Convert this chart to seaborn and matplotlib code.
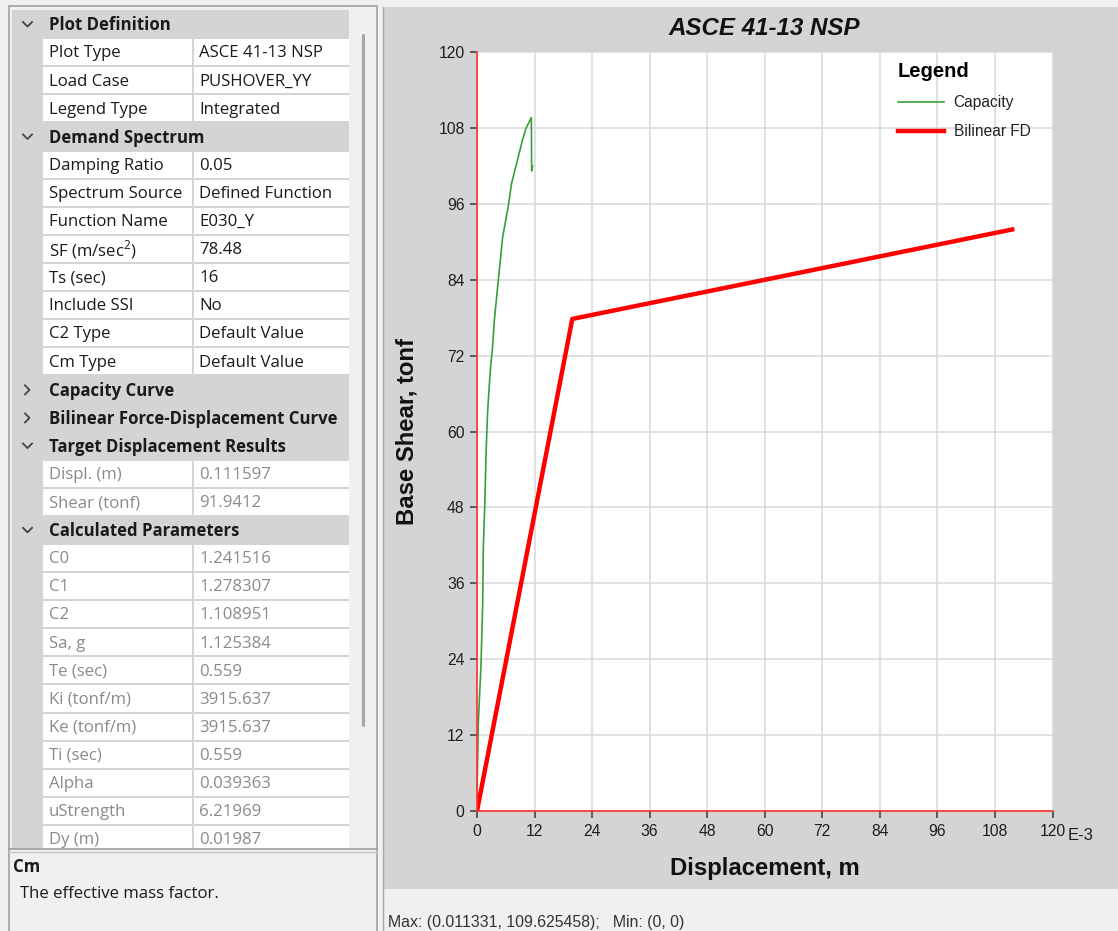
import matplotlib
matplotlib.use("Agg")
import matplotlib.pyplot as plt
from matplotlib.patches import Rectangle
from matplotlib.lines import Line2D
from matplotlib.ticker import FuncFormatter
import numpy as np
import pandas as pd
import seaborn as sns

# ---------------- data ----------------
# Capacity curve (pushover), displacement in m, base shear in tonf
cap_disp = [0.0, 0.00006, 0.00027, 0.00083, 0.00118, 0.00132, 0.00167, 0.00188,
            0.00220, 0.00257, 0.00285, 0.00320, 0.00360, 0.00465, 0.00536,
            0.00650, 0.00720, 0.00860, 0.00950, 0.01020, 0.011331, 0.01140, 0.01160]
cap_shear = [0.0, 4.9, 13.9, 23.1, 32.6, 41.8, 49.7, 56.3,
             62.9, 67.4, 70.3, 72.9, 77.5, 85.5, 90.8,
             95.5, 99.2, 103.4, 106.1, 107.9, 109.625, 101.2, 102.0]
# Bilinear force-displacement curve
bil_disp = [0.0, 0.01987, 0.111597]
bil_shear = [0.0, 77.8, 91.9412]

x_ticks = [0, 0.012, 0.024, 0.036, 0.048, 0.060, 0.072, 0.084, 0.096, 0.108, 0.120]
y_ticks = [0, 12, 24, 36, 48, 60, 72, 84, 96, 108, 120]

# property grid rows: (kind, name, value)
grid_rows = [
    ("h", "Plot Definition", "open"),
    ("r", "Plot Type", "ASCE 41-13 NSP"),
    ("r", "Load Case", "PUSHOVER_YY"),
    ("r", "Legend Type", "Integrated"),
    ("h", "Demand Spectrum", "open"),
    ("r", "Damping Ratio", "0.05"),
    ("r", "Spectrum Source", "Defined Function"),
    ("r", "Function Name", "E030_Y"),
    ("r", "SF (m/sec$^2$)", "78.48"),
    ("r", "Ts (sec)", "16"),
    ("r", "Include SSI", "No"),
    ("r", "C2 Type", "Default Value"),
    ("r", "Cm Type", "Default Value"),
    ("h", "Capacity Curve", "closed"),
    ("h", "Bilinear Force-Displacement Curve", "closed"),
    ("h", "Target Displacement Results", "open"),
    ("g", "Displ. (m)", "0.111597"),
    ("g", "Shear (tonf)", "91.9412"),
    ("h", "Calculated Parameters", "open"),
    ("g", "C0", "1.241516"),
    ("g", "C1", "1.278307"),
    ("g", "C2", "1.108951"),
    ("g", "Sa, g", "1.125384"),
    ("g", "Te (sec)", "0.559"),
    ("g", "Ki (tonf/m)", "3915.637"),
    ("g", "Ke (tonf/m)", "3915.637"),
    ("g", "Ti (sec)", "0.559"),
    ("g", "Alpha", "0.039363"),
    ("g", "uStrength", "6.21969"),
    ("g", "Dy (m)", "0.01987"),
]

# ---------------- figure ----------------
W, H = 1118, 931
fig = plt.figure(figsize=(W / 100, H / 100), dpi=100)
fig.patch.set_facecolor("#f0f0f0")
plt.rcParams["mathtext.fontset"] = "custom"
plt.rcParams["mathtext.rm"] = "Open Sans"

UI_FONT = ["Open Sans", "DejaVu Sans"]
CH_FONT = ["Liberation Sans", "DejaVu Sans"]
UI_SIZE = 12.1

bg = fig.add_axes([0, 0, 1, 1], zorder=0)
bg.set_xlim(0, W)
bg.set_ylim(H, 0)
bg.axis("off")

def rect(x0, y0, x1, y1, fc, ec="none", lw=0, z=1):
    bg.add_patch(Rectangle((x0, y0), x1 - x0, y1 - y0, facecolor=fc,
                           edgecolor=ec, linewidth=lw, zorder=z))

GRAY = "#d4d4d4"
# right chart panel
rect(383, 7, W, 889, GRAY, z=1)
bg.plot([382.5, 382.5], [7, 931], color="#a8a8a8", lw=1, zorder=2)

# left property grid panel
rect(9, 6, 377, 849, "#f0f0f0", ec="#a0a0a0", lw=1.2, z=1)
rect(12, 10, 349, 849, GRAY, z=1.5)

row_h = 28.1
y0 = 10.0
for i, (kind, name, val) in enumerate(grid_rows):
    top = y0 + row_h * i
    cy = top + row_h / 2
    ty = cy + 1.3
    if kind == "h":
        bg.text(49, ty, name, fontsize=UI_SIZE, fontweight="bold",
                family=UI_FONT, color="#1a1a1a", va="center", ha="left", zorder=5)
        if val == "open":
            bg.add_line(Line2D([23, 27.5, 32], [cy - 2, cy + 2.5, cy - 2],
                               color="#444444", lw=1.3, zorder=5))
        else:
            bg.add_line(Line2D([25, 29.5, 25], [cy - 4, cy + 0.5, cy + 5],
                               color="#444444", lw=1.3, zorder=5))
    else:
        rect(43, top + 1, 192, top + row_h - 1, "white", z=2)
        rect(194, top + 1, 349, top + row_h - 1, "white", z=2)
        col = "#1a1a1a" if kind == "r" else "#8a8a8a"
        bg.text(49, ty, name, fontsize=UI_SIZE, family=UI_FONT, color=col,
                va="center", ha="left", zorder=5)
        bg.text(199, ty, val, fontsize=UI_SIZE, family=UI_FONT, color=col,
                va="center", ha="left", zorder=5)

# scrollbar
rect(349, 10, 375, 849, "#f0f0f0", z=3)
bg.plot([362.5, 362.5], [35, 725], color="#a6a6a6", lw=2.2, zorder=4,
        solid_capstyle="round")

# description panel
rect(9, 849, 377, 935, "#f0f0f0", ec="#a0a0a0", lw=1.2, z=6)
bg.plot([9, 377], [852, 852], color="#c8c8c8", lw=1, zorder=7)
bg.text(13, 867, "Cm", fontsize=UI_SIZE, fontweight="bold", family=UI_FONT,
        color="#1a1a1a", va="center", ha="left", zorder=8)
bg.text(20, 894, "The effective mass factor.", fontsize=UI_SIZE, family=UI_FONT,
        color="#1a1a1a", va="center", ha="left", zorder=8)

# status bar
bg.text(388, 922, "Max: (0.011331, 109.625458);   Min: (0, 0)", fontsize=11.4,
        family=CH_FONT, color="#333333", va="center", ha="left", zorder=8)

# ---------------- chart ----------------
L, R, T, B = 477, 1052.5, 52, 811
ax = fig.add_axes([L / W, 1 - B / H, (R - L) / W, (B - T) / H], zorder=5)
ax.set_facecolor("white")

df_cap = pd.DataFrame({"disp": cap_disp, "shear": cap_shear})
df_bil = pd.DataFrame({"disp": bil_disp, "shear": bil_shear})

sns.lineplot(data=df_cap, x="disp", y="shear", sort=False, estimator=None,
             color="#3a9f3a", linewidth=1.2, ax=ax, label="Capacity", zorder=4)
sns.lineplot(data=df_bil, x="disp", y="shear", sort=False, estimator=None,
             color="#ff0000", linewidth=3.2, ax=ax, label="Bilinear FD", zorder=5)

ax.set_xlim(0, 0.120)
ax.set_ylim(0, 120)
ax.set_xticks(x_ticks)
ax.set_yticks(y_ticks)
ax.xaxis.set_major_formatter(FuncFormatter(lambda v, p: f"{v * 1000:.0f}"))
ax.yaxis.set_major_formatter(FuncFormatter(lambda v, p: f"{v:.0f}"))
ax.grid(True, color="#dcdcdc", linewidth=1.2)
ax.set_axisbelow(True)
for s in ["top", "right"]:
    ax.spines[s].set_visible(False)
for s in ["left", "bottom"]:
    ax.spines[s].set_color("#ff3030")
    ax.spines[s].set_linewidth(1.2)
    ax.spines[s].set_zorder(6)
ax.tick_params(axis="both", direction="out", length=5, width=1.2,
               color="#444444", labelsize=11.3, labelcolor="#1e1e1e", pad=4)
for lab in ax.get_xticklabels() + ax.get_yticklabels():
    lab.set_family(CH_FONT)

ax.set_xlabel("Displacement, m", fontsize=17.2, fontweight="bold",
              family=CH_FONT, color="#111111", labelpad=13)
ax.set_ylabel("Base Shear, tonf", fontsize=17.2, fontweight="bold",
              family=CH_FONT, color="#111111", labelpad=14)
ax.set_title("ASCE 41-13 NSP", fontsize=17.4, fontweight="bold", style="italic",
             family=CH_FONT, color="#111111", pad=12)
fig.text(1068 / W, 1 - 836 / H, "E-3", fontsize=12, family=CH_FONT,
         color="#1e1e1e", ha="left", va="center")

leg = ax.legend(title="Legend", loc="upper left", bbox_to_anchor=(0.712, 1.001),
                frameon=False, handlelength=3.0,
                prop={"family": CH_FONT, "size": 11.2},
                title_fontproperties={"family": CH_FONT, "weight": "bold", "size": 14.5},
                labelspacing=0.9, handletextpad=0.6, borderaxespad=0.3)
leg._legend_box.align = "left"
for t in leg.get_texts():
    t.set_color("#222222")

fig.savefig("out.png", dpi=100, facecolor=fig.get_facecolor())
